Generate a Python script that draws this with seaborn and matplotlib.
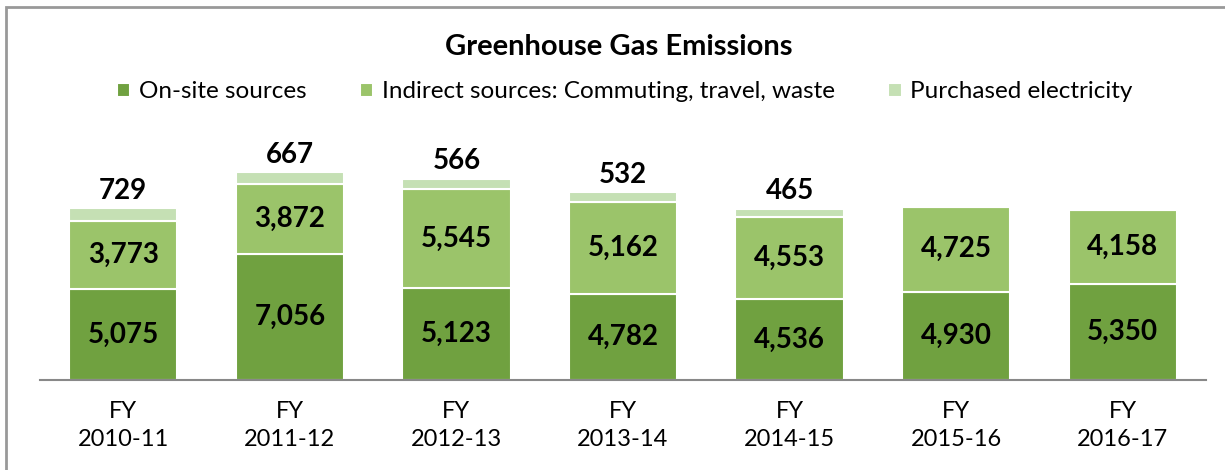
import matplotlib
matplotlib.use("Agg")
import matplotlib.pyplot as plt
from matplotlib.patches import Rectangle
import pandas as pd
import seaborn as sns

# data
years = ["FY\n2010-11", "FY\n2011-12", "FY\n2012-13", "FY\n2013-14",
         "FY\n2014-15", "FY\n2015-16", "FY\n2016-17"]
onsite = [5075, 7056, 5123, 4782, 4536, 4930, 5350]
indirect = [3773, 3872, 5545, 5162, 4553, 4725, 4158]
electricity = [729, 667, 566, 532, 465, 0, 0]

series = ["On-site sources", "Indirect sources: Commuting, travel, waste",
          "Purchased electricity"]
colors = ["#70A140", "#9BC46A", "#C5E0B4"]

sns.set_style("white")
plt.rcParams["font.family"] = ["Lato", "DejaVu Sans"]
plt.rcParams["text.color"] = "black"
plt.rcParams["xtick.color"] = "black"

df = pd.DataFrame({"year": years, series[0]: onsite,
                   series[1]: indirect, series[2]: electricity})

fig = plt.figure(figsize=(12.25, 4.7), dpi=100)
ax = fig.add_axes([40 / 1225, 90 / 470, 1166 / 1225, 215 / 470])

bottom = [0] * len(years)
for name, col in zip(series, colors):
    sns.barplot(data=df, x="year", y=name, bottom=bottom, color=col,
                saturation=1, width=0.65, edgecolor="white", linewidth=1.5,
                ax=ax, label=name)
    for i, (b, v) in enumerate(zip(bottom, df[name])):
        if v == 0:
            continue
        if name == series[2]:
            ax.text(i, b + v + 250, f"{v:,}", ha="center", va="bottom",
                    fontsize=20, fontweight="bold", clip_on=False)
        else:
            ax.text(i, b + v / 2, f"{v:,}", ha="center", va="center",
                    fontsize=20, fontweight="bold")
    bottom = [b + v for b, v in zip(bottom, df[name])]

ax.set_xlim(-0.5, 6.5)
ax.set_ylim(0, 12000)
ax.set_xlabel("")
ax.set_ylabel("")
ax.set_yticks([])
ax.tick_params(axis="x", length=0, labelsize=17, pad=15)
for lbl in ax.get_xticklabels():
    lbl.set_linespacing(1.45)
sns.despine(ax=ax, left=True)
ax.spines["bottom"].set_color("#888888")
ax.spines["bottom"].set_linewidth(1.5)

handles, labels = ax.get_legend_handles_labels()
ax.legend(handles, labels, loc="center", bbox_to_anchor=(0.51, 1 - 92 / 470),
          bbox_transform=fig.transFigure, ncol=3, frameon=False,
          fontsize=17.5, handlelength=0.55, handleheight=0.55,
          handletextpad=0.35, columnspacing=2.2)
fig.text(0.505, 1 - 47 / 470, "Greenhouse Gas Emissions", ha="center",
         va="center", fontsize=21, fontweight="bold")

fig.patches.append(Rectangle((6 / 1225, -0.1), 1.2, 1.1 - 7 / 470,
                             transform=fig.transFigure, fill=False,
                             edgecolor="#999999", linewidth=2))

fig.savefig("out.png", dpi=100)
